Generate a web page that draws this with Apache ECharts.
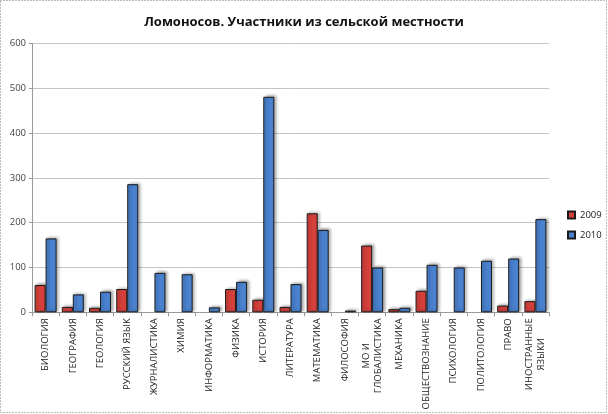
<!DOCTYPE html>
<html>
<head>
<meta charset="utf-8">
<script src="https://cdn.jsdelivr.net/npm/echarts@6/dist/echarts.min.js"></script>
<style>
  html, body { margin: 0; padding: 0; background: #fff; }
  #chart { width: 608px; height: 414px; }
</style>
</head>
<body>
<div id="chart"></div>
<script>
var categories = ['БИОЛОГИЯ', 'ГЕОГРАФИЯ', 'ГЕОЛОГИЯ', 'РУССКИЙ ЯЗЫК', 'ЖУРНАЛИСТИКА', 'ХИМИЯ',
  'ИНФОРМАТИКА', 'ФИЗИКА', 'ИСТОРИЯ', 'ЛИТЕРАТУРА', 'МАТЕМАТИКА', 'ФИЛОСОФИЯ',
  'МО И\nГЛОБАЛИСТИКА', 'МЕХАНИКА', 'ОБЩЕСТВОЗНАНИЕ', 'ПСИХОЛОГИЯ', 'ПОЛИТОЛОГИЯ', 'ПРАВО',
  'ИНОСТРАННЫЕ\nЯЗЫКИ'];
// no bar in 2009 for several subjects
var values2009 = [61, 12, 10, 52, null, null, null, 52, 28, 12, 221, null, 149, 7, 48, null, null, 15, 25];
var values2010 = [165, 40, 46, 286, 88, 85, 11, 68, 481, 63, 184, 4, 100, 10, 106, 100, 115, 120, 208];
var yTicks = [0, 100, 200, 300, 400, 500, 600];

var chart = echarts.init(document.getElementById('chart'));

// shared look for the bars
function barStyle(color) {
  return {
    color: color,
    borderColor: '#1a1a1a',
    borderWidth: 1,
    shadowColor: 'rgba(0,0,0,0.35)',
    shadowBlur: 3,
    shadowOffsetX: 2,
    shadowOffsetY: -1
  };
}

var option = {
  animation: false,
  backgroundColor: '#fff',
  title: {
    text: 'Ломоносов. Участники из сельской местности',
    left: 'center',
    top: 11,
    textStyle: { fontFamily: 'Open Sans', fontSize: 13, fontWeight: 'bold', color: '#111' }
  },
  legend: {
    orient: 'vertical',
    left: 562,
    top: 205,
    itemWidth: 7,
    itemHeight: 7,
    itemGap: 10,
    icon: 'rect',
    textStyle: { fontFamily: 'Open Sans', fontSize: 9.5, color: '#222' },
    data: ['2009', '2010']
  },
  grid: { left: 32, right: 59, top: 43.5, bottom: 101.7 },
  xAxis: {
    type: 'category',
    data: categories,
    axisLine: { lineStyle: { color: '#9a9a9a' } },
    axisTick: { show: true, length: 4, lineStyle: { color: '#9a9a9a' } },
    axisLabel: {
      interval: 0,
      rotate: 90,
      margin: 6,
      color: '#222',
      fontFamily: 'Open Sans',
      fontSize: 9.5,
      lineHeight: 12,
      formatter: function (v) {
        return v.split('\n').map(function (s) { return '{c|' + s + '}'; }).join('\n');
      },
      rich: { c: { align: 'center', fontFamily: 'Open Sans', fontSize: 9.5, color: '#222', lineHeight: 12 } }
    }
  },
  yAxis: {
    type: 'value',
    min: yTicks[0],
    max: yTicks[yTicks.length - 1],
    interval: 100,
    axisLine: { show: true, lineStyle: { color: '#9a9a9a' } },
    axisTick: { show: true, length: 3, lineStyle: { color: '#9a9a9a' } },
    axisLabel: { margin: 6, color: '#444', fontFamily: 'Open Sans', fontSize: 9.5 },
    splitLine: { lineStyle: { color: '#c4c4c4' } }
  },
  series: [
    {
      name: '2009',
      type: 'bar',
      barWidth: 11,
      barGap: '0%',
      itemStyle: barStyle('#d6403b'),
      data: values2009
    },
    {
      name: '2010',
      type: 'bar',
      barWidth: 11,
      barGap: '0%',
      itemStyle: barStyle('#4a82d0'),
      data: values2010
    }
  ],
  graphic: [
    {
      type: 'rect',
      shape: { x: 0.5, y: 0.5, width: 606, height: 412 },
      style: { fill: null, stroke: '#777', lineWidth: 1, lineDash: [1, 2] },
      silent: true
    }
  ]
};

chart.setOption(option);
</script>
</body>
</html>
